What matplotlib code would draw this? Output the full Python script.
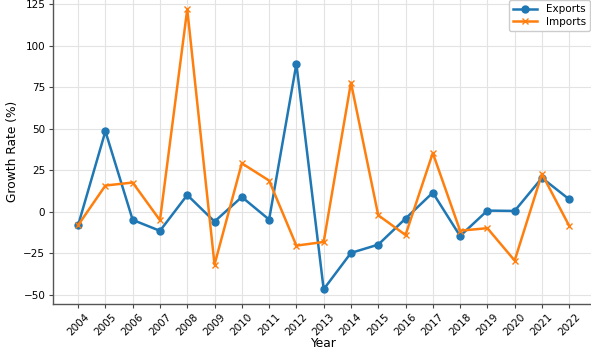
import matplotlib

matplotlib.use("Agg")
import matplotlib.pyplot as plt

years = list(range(2004, 2023))
exports = [-8.0, 48.6, -4.8, -11.4, 10.2, -5.8, 9.0, -4.6, 89.2, -46.6,
           -24.7, -19.7, -4.0, 11.6, -14.5, 0.8, 0.6, 20.5, 7.6]
imports = [-8.0, 15.9, 17.7, -5.0, 122.1, -31.7, 29.3, 18.9, -20.3, -18.1,
           77.9, -2.0, -13.9, 35.5, -11.3, -9.8, -29.3, 22.9, -8.4]

fig = plt.figure(figsize=(5.91, 3.55), dpi=100)
ax = fig.add_axes([0.0897, 0.1445, 0.915, 0.8555])

ax.plot(years, exports, marker="o", markersize=5, linewidth=1.8,
        color="#1f77b4", label="Exports")
ax.plot(years, imports, marker="x", markersize=5, linewidth=1.8,
        color="#ff7f0e", label="Imports")

ax.set_xlim(2003.08, 2022.9)
ax.set_ylim(-55.3, 127.7)
ax.set_xticks(years)
ax.set_xticklabels([str(y) for y in years], rotation=45, ha="center", fontsize=7.5)
ax.set_yticks([-50, -25, 0, 25, 50, 75, 100, 125])
ax.tick_params(axis="y", labelsize=7.5)
ax.tick_params(axis="both", length=3, width=0.8, color="#444444", pad=2.5)

ax.set_xlabel("Year", fontsize=8.8, labelpad=0)
ax.set_ylabel("Growth Rate (%)", fontsize=8.8, labelpad=3)

ax.grid(True, color="#e3e3e3", linewidth=0.8)
ax.set_axisbelow(True)
for side in ["top", "right"]:
    ax.spines[side].set_visible(False)
for side in ["left", "bottom"]:
    ax.spines[side].set_color("#555555")
    ax.spines[side].set_linewidth(1.0)

ax.legend(loc="upper right", bbox_to_anchor=(590 / 591, 1.0), bbox_transform=fig.transFigure,
          fontsize=7.5, labelspacing=0.25, handlelength=2.3, borderaxespad=0, framealpha=1.0,
          edgecolor="#cccccc", fancybox=True)

fig.savefig("out.png", dpi=100)
